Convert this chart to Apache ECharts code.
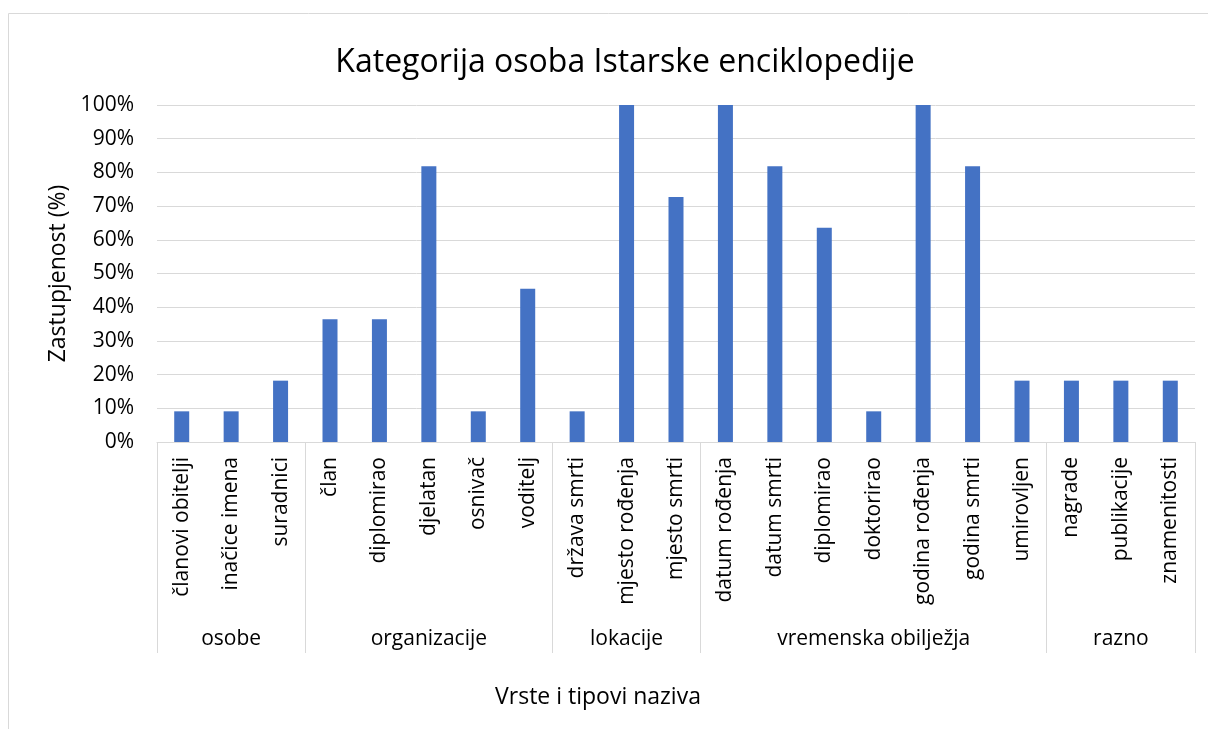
<!DOCTYPE html>
<html>
<head>
<meta charset="utf-8">
<script src="https://cdn.jsdelivr.net/npm/echarts@6/dist/echarts.min.js"></script>
<style>
  html, body { margin: 0; padding: 0; background: #fff; }
  #chart { width: 1208px; height: 729px; }
</style>
</head>
<body>
<div id="chart"></div>
<script>
// category labels, grouped as in the source table
const categories = [
  'članovi obitelji', 'inačice imena', 'suradnici',
  'član', 'diplomirao', 'djelatan', 'osnivač', 'voditelj',
  'država smrti', 'mjesto rođenja', 'mjesto smrti',
  'datum rođenja', 'datum smrti', 'diplomirao', 'doktorirao', 'godina rođenja', 'godina smrti', 'umirovljen',
  'nagrade', 'publikacije', 'znamenitosti'
];
const groupNames = ['osobe', 'organizacije', 'lokacije', 'vremenska obilježja', 'razno'];
const groupSizes = [3, 5, 3, 7, 3];

// share in percent
const values = [
  9.1, 9.1, 18.2,
  36.4, 36.4, 81.8, 9.1, 45.5,
  9.1, 100, 72.7,
  100, 81.8, 63.6, 9.1, 100, 81.8, 18.2,
  18.2, 18.2, 18.2
];

const yTicks = [0, 10, 20, 30, 40, 50, 60, 70, 80, 90, 100];

// group boundaries and centres on a 0..n value scale
const bounds = [0];
groupSizes.forEach(n => bounds.push(bounds[bounds.length - 1] + n));
const centres = groupSizes.map((n, i) => bounds[i] + n / 2);

const FONT = '"Open Sans", "Noto Sans", sans-serif';
const GREY = '#d9d9d9';
const TXT = '#000';

const chart = echarts.init(document.getElementById('chart'));

chart.setOption({
  animation: false,
  textStyle: { fontFamily: FONT },
  title: {
    text: 'Kategorija osoba Istarske enciklopedije',
    left: 620, top: 42, textAlign: 'center',
    textStyle: { fontFamily: FONT, fontSize: 32, fontWeight: 'normal', color: TXT }
  },
  graphic: [
    {
      type: 'rect', silent: true,
      shape: { x: 8.5, y: 13.5, width: 1300, height: 800 },
      style: { fill: 'none', stroke: GREY, lineWidth: 1 }
    },
    {
      type: 'text', silent: true,
      x: 598, y: 697,
      style: {
        text: 'Vrste i tipovi naziva', fill: TXT, font: '23px ' + FONT,
        textAlign: 'center', textVerticalAlign: 'middle'
      }
    }
  ],
  grid: { left: 157, right: 13, top: 105, bottom: 287, containLabel: false },
  xAxis: [
    {
      type: 'category',
      data: categories,
      axisLine: { lineStyle: { color: GREY, width: 1 } },
      axisTick: { show: false },
      axisLabel: {
        rotate: 90, interval: 0, margin: 15,
        fontFamily: FONT, fontSize: 21, color: TXT
      }
    },
    {
      type: 'value',
      position: 'bottom',
      min: 0, max: categories.length,
      axisLine: { show: false },
      splitLine: { show: false },
      axisTick: {
        show: true, inside: false, length: 211,
        customValues: bounds,
        lineStyle: { color: GREY, width: 1 }
      },
      axisLabel: {
        customValues: centres,
        margin: 197, verticalAlign: 'middle',
        fontFamily: FONT, fontSize: 21, color: TXT,
        formatter: v => groupNames[centres.indexOf(v)] || ''
      }
    }
  ],
  yAxis: {
    type: 'value',
    min: 0, max: 100, interval: 10,
    name: 'Zastupjenost (%)',
    nameLocation: 'middle', nameGap: 81, nameRotate: 90,
    nameTextStyle: { fontFamily: FONT, fontSize: 23, color: TXT },
    axisLine: { show: false },
    axisTick: { show: false },
    splitLine: { lineStyle: { color: GREY, width: 1 } },
    axisLabel: {
      margin: 23, fontFamily: FONT, fontSize: 21, color: TXT,
      customValues: yTicks,
      formatter: v => v + '%'
    }
  },
  series: [{
    type: 'bar',
    xAxisIndex: 0,
    data: values,
    barWidth: 15,
    itemStyle: { color: '#4472C4' }
  }]
});
</script>
</body>
</html>
